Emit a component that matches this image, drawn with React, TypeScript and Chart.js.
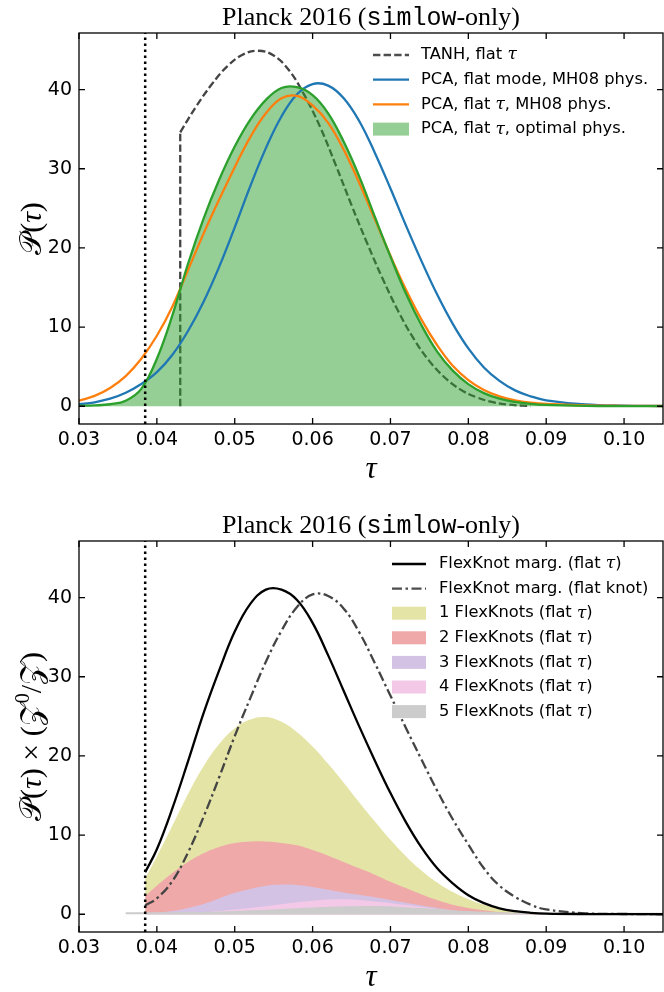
import React, { useEffect, useRef } from "react";
import { Chart, registerables } from "chart.js";
Chart.register(...registerables);

// ---------- shared axes ----------
const TAU_MIN = 0.03;
const TAU_MAX = 0.105;
const P_MIN = -2.245;
const P_MAX = 47.145;
const X_TICKS = [0.03, 0.04, 0.05, 0.06, 0.07, 0.08, 0.09, 0.1];
const Y_TICKS = [0, 10, 20, 30, 40];
const TAU_LIMIT = 0.0385;

// ---------- top panel ----------
const TANH_CUT_TAU = [0.043, 0.043];
const TANH_CUT_P = [0, 34.6];
const TANH_TAU = [0.043, 0.045, 0.047, 0.049, 0.051, 0.053, 0.055, 0.057, 0.059, 0.061, 0.063, 0.065, 0.067, 0.069, 0.071, 0.073, 0.075, 0.077, 0.079, 0.081, 0.083, 0.085, 0.087, 0.088];
const TANH_P = [34.6, 37.8, 40.6, 42.9, 44.4, 44.9, 44.3, 42.4, 39.2, 35.2, 30.4, 25.4, 20.6, 16.1, 12.0, 8.5, 5.7, 3.6, 2.1, 1.15, 0.55, 0.22, 0.07, 0.03];

const PCA_TAU = [0.03, 0.032, 0.034, 0.036, 0.038, 0.04, 0.042, 0.044, 0.046, 0.048, 0.05, 0.052, 0.054, 0.056, 0.058, 0.06, 0.062, 0.064, 0.066, 0.068, 0.07, 0.072, 0.074, 0.076, 0.078, 0.08, 0.082, 0.084, 0.086, 0.088, 0.09, 0.095, 0.1, 0.105];
const PCA_MODE_MH08 = [0.25, 0.5, 0.95, 1.7, 2.8, 4.3, 6.5, 9.5, 13.2, 17.6, 22.6, 27.8, 32.6, 36.6, 39.4, 40.7, 40.5, 38.9, 36.0, 32.0, 27.5, 22.8, 18.3, 14.1, 10.4, 7.3, 4.9, 3.2, 2.0, 1.25, 0.75, 0.22, 0.07, 0.03];
const PCA_TAU_MH08 = [0.7, 1.3, 2.3, 3.8, 6.0, 8.9, 12.6, 17.2, 21.8, 26.1, 30.2, 34.0, 37.0, 38.9, 39.2, 38.0, 35.8, 32.4, 28.2, 23.6, 19.0, 14.7, 10.9, 7.7, 5.1, 3.3, 2.05, 1.25, 0.75, 0.45, 0.28, 0.1, 0.05, 0.03];
const PCA_TAU_OPT = [0.05, 0.1, 0.25, 0.7, 2.2, 6.0, 11.5, 18.0, 23.7, 28.6, 32.8, 36.2, 38.7, 40.2, 40.3, 39.3, 37.0, 33.4, 29.0, 23.9, 18.9, 14.2, 10.2, 6.9, 4.5, 2.8, 1.65, 0.95, 0.55, 0.3, 0.17, 0.05, 0.02, 0.02];

// ---------- bottom panel ----------
const FK_TAU = [0.0385, 0.04, 0.042, 0.044, 0.046, 0.048, 0.05, 0.052, 0.054, 0.056, 0.058, 0.06, 0.062, 0.064, 0.066, 0.068, 0.07, 0.072, 0.074, 0.076, 0.078, 0.08, 0.082, 0.084, 0.086, 0.088, 0.09, 0.095, 0.1, 0.105];
const FK_MARG_FLAT_TAU = [5.3, 8.2, 13.4, 19.3, 25.4, 30.8, 35.7, 39.2, 41.0, 41.0, 39.7, 36.8, 32.7, 28.2, 23.7, 19.4, 15.3, 11.6, 8.4, 5.8, 3.9, 2.4, 1.4, 0.75, 0.38, 0.18, 0.08, 0.02, 0.01, 0.0];
const FK_MARG_FLAT_KNOT = [1.1, 2.0, 4.2, 7.8, 12.3, 17.3, 22.5, 27.3, 31.9, 35.8, 38.8, 40.4, 40.2, 38.6, 35.6, 31.7, 27.6, 23.5, 19.5, 15.6, 12.0, 8.8, 5.8, 3.6, 2.2, 1.2, 0.6, 0.12, 0.03, 0.01];
const FK1 = [4.5, 7.3, 11.2, 15.2, 18.7, 21.5, 23.5, 24.6, 24.9, 24.3, 23.0, 21.2, 19.0, 16.6, 14.1, 11.7, 9.4, 7.3, 5.5, 4.0, 2.8, 1.9, 1.2, 0.7, 0.4, 0.2, 0.1, 0.02, 0, 0];
const FK2 = [2.3, 3.6, 5.2, 6.6, 7.7, 8.5, 9.0, 9.2, 9.2, 9.0, 8.7, 8.1, 7.4, 6.6, 5.8, 5.0, 4.1, 3.3, 2.5, 1.8, 1.2, 0.8, 0.5, 0.25, 0.12, 0.05, 0.02, 0, 0, 0];
const FK3 = [0.1, 0.2, 0.4, 0.8, 1.3, 2.0, 2.7, 3.2, 3.6, 3.75, 3.7, 3.45, 3.1, 2.75, 2.45, 2.15, 1.8, 1.45, 1.1, 0.8, 0.5, 0.3, 0.15, 0.07, 0.03, 0.01, 0, 0, 0, 0];
const FK4 = [0.02, 0.04, 0.08, 0.15, 0.25, 0.4, 0.6, 0.8, 1.0, 1.25, 1.5, 1.7, 1.85, 1.9, 1.8, 1.6, 1.4, 1.15, 0.9, 0.65, 0.45, 0.3, 0.18, 0.1, 0.05, 0.02, 0.01, 0, 0, 0];
const FK5_TAU = [0.036, 0.04, 0.044, 0.048, 0.052, 0.056, 0.06, 0.064, 0.068, 0.072, 0.076, 0.08, 0.084, 0.09, 0.105];
const FK5 = [0.15, 0.15, 0.18, 0.25, 0.4, 0.55, 0.75, 0.9, 0.95, 0.8, 0.55, 0.3, 0.15, 0.1, 0.08];

// ---------- text ----------
const SANS = '16.3px "DejaVu Sans"';
const MATH = 'italic 17px "DejaVu Serif"';
type Seg = { t: string; f: string; dy?: number };
const S = (t: string): Seg => ({ t, f: SANS });
const M = (t: string): Seg => ({ t, f: MATH });

const TITLE: Seg[] = [
  { t: "Planck 2016 (", f: '26px "Liberation Serif"' },
  { t: "simlow", f: '25px "Liberation Mono"' },
  { t: "-only)", f: '26px "Liberation Serif"' },
];
const XLABEL: Seg[] = [{ t: "τ", f: 'italic 31px "Liberation Serif"' }];
const SCRIPT = '30px "DejaVu Serif", "DejaVu Sans", serif';
const RM = '30px "Liberation Serif"';
const IT = 'italic 30px "Liberation Serif"';
const YLABEL_TOP: Seg[] = [{ t: "𝒫", f: SCRIPT }, { t: "(", f: RM }, { t: "τ", f: IT }, { t: ")", f: RM }];
const YLABEL_BOTTOM: Seg[] = [
  { t: "𝒫", f: SCRIPT }, { t: "(", f: RM }, { t: "τ", f: IT }, { t: ") × (", f: RM },
  { t: "𝒵", f: SCRIPT }, { t: "0", f: '20px "Liberation Serif"', dy: -12 }, { t: "/", f: RM },
  { t: "𝒵", f: SCRIPT }, { t: ")", f: RM },
];

type LegendItem = { kind: "line" | "patch"; color: string; dash?: number[]; segs: Seg[] };
const TOP_LEGEND: LegendItem[] = [
  { kind: "line", color: "#4d4d4d", dash: [7.4, 3.2], segs: [S("TANH, flat "), M("τ")] },
  { kind: "line", color: "#1f77b4", segs: [S("PCA, flat mode, MH08 phys.")] },
  { kind: "line", color: "#ff7f0e", segs: [S("PCA, flat "), M("τ"), S(", MH08 phys.")] },
  { kind: "patch", color: "rgba(44,160,44,0.5)", segs: [S("PCA, flat "), M("τ"), S(", optimal phys.")] },
];
const BOTTOM_LEGEND: LegendItem[] = [
  { kind: "line", color: "#000000", segs: [S("FlexKnot marg. (flat "), M("τ"), S(")")] },
  { kind: "line", color: "#4d4d4d", dash: [10, 3.5, 2.5, 3.5], segs: [S("FlexKnot marg. (flat knot)")] },
  { kind: "patch", color: "#e4e4a7", segs: [S("1 FlexKnots (flat "), M("τ"), S(")")] },
  { kind: "patch", color: "#efa9a9", segs: [S("2 FlexKnots (flat "), M("τ"), S(")")] },
  { kind: "patch", color: "#d4c2e5", segs: [S("3 FlexKnots (flat "), M("τ"), S(")")] },
  { kind: "patch", color: "#f4c9e7", segs: [S("4 FlexKnots (flat "), M("τ"), S(")")] },
  { kind: "patch", color: "#cccccc", segs: [S("5 FlexKnots (flat "), M("τ"), S(")")] },
];

const pts = (xs: number[], ys: number[]) => xs.map((x, i) => ({ x, y: ys[i] }));

function drawSegs(ctx: CanvasRenderingContext2D, segs: Seg[], x: number, y: number, align: "left" | "center") {
  const widths = segs.map((s) => { ctx.font = s.f; return ctx.measureText(s.t).width; });
  const total = widths.reduce((a, b) => a + b, 0);
  let cx = align === "center" ? x - total / 2 : x;
  ctx.textAlign = "left";
  segs.forEach((s, i) => { ctx.font = s.f; ctx.fillText(s.t, cx, y + (s.dy || 0)); cx += widths[i]; });
}

type Decor = {
  ylabel: Seg[];
  legend: LegendItem[];
  legendY0: number; legendDy: number; handleX: number; handleW: number; textX: number;
};

function decorPlugin(d: Decor) {
  return {
    id: "decor",
    afterDraw(chart: any) {
      const { ctx, chartArea: a, scales } = chart;
      ctx.save();
      ctx.fillStyle = "#000";
      ctx.strokeStyle = "#000";
      ctx.setLineDash([]);
      ctx.lineWidth = 1.3;
      ctx.strokeRect(a.left, a.top, a.right - a.left, a.bottom - a.top);
      const L = 6;
      ctx.beginPath();
      scales.x.ticks.forEach((t: any) => {
        const px = scales.x.getPixelForValue(t.value);
        ctx.moveTo(px, a.bottom); ctx.lineTo(px, a.bottom - L);
        ctx.moveTo(px, a.top); ctx.lineTo(px, a.top + L);
      });
      scales.y.ticks.forEach((t: any) => {
        const py = scales.y.getPixelForValue(t.value);
        ctx.moveTo(a.left, py); ctx.lineTo(a.left + L, py);
        ctx.moveTo(a.right, py); ctx.lineTo(a.right - L, py);
      });
      ctx.stroke();

      ctx.textBaseline = "alphabetic";
      drawSegs(ctx, TITLE, (a.left + a.right) / 2, a.top - 8.5, "center");
      drawSegs(ctx, XLABEL, (a.left + a.right) / 2, a.bottom + 54, "center");
      ctx.save();
      ctx.translate(41, (a.top + a.bottom) / 2);
      ctx.rotate(-Math.PI / 2);
      drawSegs(ctx, d.ylabel, 0, 0, "center");
      ctx.restore();

      ctx.textBaseline = "middle";
      d.legend.forEach((it, i) => {
        const cy = d.legendY0 + i * d.legendDy;
        if (it.kind === "line") {
          ctx.strokeStyle = it.color;
          ctx.lineWidth = 2.3;
          ctx.setLineDash(it.dash || []);
          ctx.beginPath();
          ctx.moveTo(d.handleX, cy);
          ctx.lineTo(d.handleX + d.handleW, cy);
          ctx.stroke();
          ctx.setLineDash([]);
        } else {
          ctx.fillStyle = it.color;
          ctx.fillRect(d.handleX, cy - 6.5, d.handleW, 13);
        }
        ctx.fillStyle = "#000";
        drawSegs(ctx, it.segs, d.textX, cy, "left");
      });
      ctx.restore();
    },
  };
}

function baseOptions(padTop: number, xHeight: number) {
  return {
    animation: false,
    responsive: false,
    maintainAspectRatio: false,
    devicePixelRatio: 1,
    layout: { padding: { top: padTop, right: 1, left: 0, bottom: 0 }, autoPadding: false },
    plugins: { legend: { display: false }, tooltip: { enabled: false }, title: { display: false } },
    scales: {
      x: {
        type: "linear",
        min: TAU_MIN,
        max: TAU_MAX,
        grid: { display: false, drawTicks: false },
        border: { display: false },
        afterBuildTicks: (s: any) => { s.ticks = X_TICKS.map((v) => ({ value: v })); },
        afterFit: (s: any) => { s.height = xHeight; },
        ticks: {
          font: { family: "DejaVu Sans", size: 19 },
          color: "#000",
          padding: 5,
          maxRotation: 0,
          autoSkip: false,
          callback: (v: any) => Number(v).toFixed(2),
        },
      },
      y: {
        type: "linear",
        min: P_MIN,
        max: P_MAX,
        grid: { display: false, drawTicks: false },
        border: { display: false },
        afterBuildTicks: (s: any) => { s.ticks = Y_TICKS.map((v) => ({ value: v })); },
        afterFit: (s: any) => { s.width = 79; },
        ticks: {
          font: { family: "DejaVu Sans", size: 19 },
          color: "#000",
          padding: 7,
          callback: (v: any) => String(v),
        },
      },
    },
  };
}

const curve = (data: any[], color: string, order: number, extra: any = {}) => ({
  data,
  borderColor: color,
  borderWidth: 2.3,
  pointRadius: 0,
  fill: false,
  cubicInterpolationMode: "default",
  tension: 0.4,
  order,
  ...extra,
});

const limitLine = (order: number) => ({
  data: [{ x: TAU_LIMIT, y: P_MIN }, { x: TAU_LIMIT, y: P_MAX }],
  borderColor: "#000",
  borderWidth: 2.5,
  borderDash: [2.5, 3.5],
  pointRadius: 0,
  tension: 0,
  fill: false,
  order,
});

function topConfig() {
  return {
    type: "line",
    data: {
      datasets: [
        limitLine(0),
        curve(pts(PCA_TAU, PCA_TAU_OPT), "#2ca02c", 1),
        curve(pts(PCA_TAU, PCA_TAU_MH08), "#ff7f0e", 2),
        curve(pts(PCA_TAU, PCA_MODE_MH08), "#1f77b4", 3),
        curve(pts(PCA_TAU, PCA_TAU_OPT), "rgba(0,0,0,0)", 4, { borderWidth: 0, fill: "origin", backgroundColor: "rgba(44,160,44,0.5)" }),
        curve(pts(TANH_TAU, TANH_P), "#444444", 5, { borderDash: [7.4, 3.2] }),
        curve(pts(TANH_CUT_TAU, TANH_CUT_P), "#444444", 5, { borderDash: [7.4, 3.2], tension: 0 }),
      ],
    },
    options: baseOptions(33, 72),
    plugins: [decorPlugin({ ylabel: YLABEL_TOP, legend: TOP_LEGEND, legendY0: 55, legendDy: 24.7, handleX: 373, handleW: 36, textX: 421 })],
  };
}

function bottomConfig() {
  const fillDs = (ys: number[], xs: number[], color: string, order: number, bw = 0) =>
    curve(pts(xs, ys), bw ? color : "rgba(0,0,0,0)", order, { borderWidth: bw, fill: "origin", backgroundColor: color });
  return {
    type: "line",
    data: {
      datasets: [
        limitLine(0),
        curve(pts(FK_TAU, FK_MARG_FLAT_TAU), "#000000", 1),
        curve(pts(FK_TAU, FK_MARG_FLAT_KNOT), "#444444", 2, { borderDash: [10, 3.5, 2.5, 3.5] }),
        fillDs(FK5, FK5_TAU, "#cccccc", 3, 1.5),
        fillDs(FK4, FK_TAU, "#f4c9e7", 4),
        fillDs(FK3, FK_TAU, "#d4c2e5", 5),
        fillDs(FK2, FK_TAU, "#efa9a9", 6),
        fillDs(FK1, FK_TAU, "#e4e4a7", 7),
      ],
    },
    options: baseOptions(45, 60),
    plugins: [decorPlugin({ ylabel: YLABEL_BOTTOM, legend: BOTTOM_LEGEND, legendY0: 68, legendDy: 24.6, handleX: 392, handleW: 34, textX: 439 })],
  };
}

function Panel({ build }: { build: () => any }) {
  const ref = useRef<HTMLCanvasElement>(null);
  useEffect(() => {
    const chart = new Chart(ref.current as HTMLCanvasElement, build());
    return () => chart.destroy();
  }, []);
  return <canvas ref={ref} width={664} height={496} style={{ display: "block", width: 664, height: 496 }} />;
}

export default function App() {
  return (
    <div style={{ position: "fixed", left: 0, top: 0, width: 664, height: 992, background: "#fff" }}>
      <Panel build={topConfig} />
      <Panel build={bottomConfig} />
    </div>
  );
}
